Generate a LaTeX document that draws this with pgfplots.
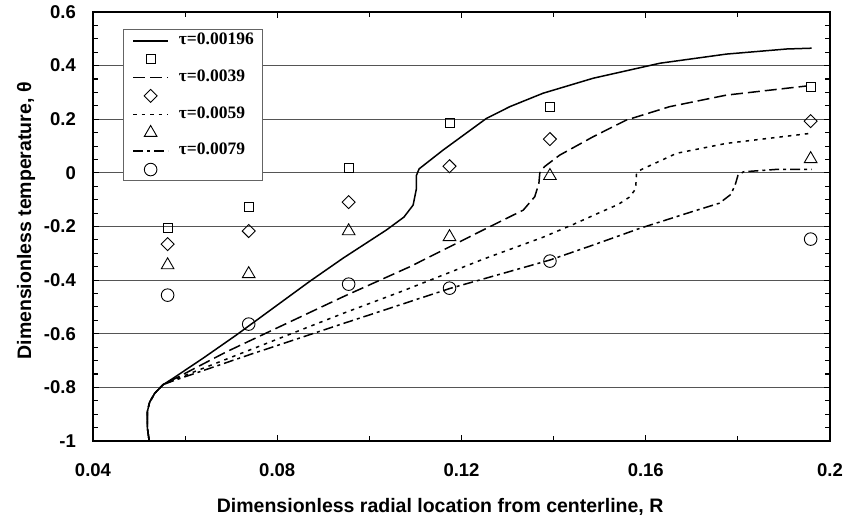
\documentclass[border=0pt]{standalone}
\usepackage{fontspec}
\setmainfont{Liberation Sans}
\newfontfamily\timesfont{Liberation Serif}
\usepackage{pgfplots}
\pgfplotsset{compat=1.18}
\pgfplotsset{
 linelegend/.style={legend image code/.code={\draw[##1] (0pt,0pt) -- (35pt,0pt);}},
 marklegend/.style={legend image code/.code={\draw[##1] plot coordinates {(17.5pt,0pt)};}},
}
\begin{document}
\begin{tikzpicture}
\begin{axis}[
 name=ax,
 scale only axis,
 width=737pt, height=429pt,
 xmin=0.04, xmax=0.2, ymin=-1, ymax=0.6,
 xtick={0.04,0.08,0.12,0.16,0.2},
 xticklabels={0.04,0.08,0.12,0.16,0.2},
 minor xtick={0.06,0.1,0.14,0.18},
 ytick={-1,-0.8,-0.6,-0.4,-0.2,0,0.2,0.4,0.6},
 yticklabels={-1,-0.8,-0.6,-0.4,-0.2,0,0.2,0.4,0.6},
 minor y tick num=3,
 ymajorgrids,
 major grid style={draw={rgb,255:red,85;green,85;blue,85}, line width=1pt},
 tick align=inside,
 major tick length=6pt, minor tick length=5pt,
 tick style={black, line width=1.1pt},
 axis line style={line width=2pt},
 xticklabel style={font=\fontsize{18.5}{20}\selectfont\bfseries, inner sep=0pt, anchor=north, yshift=-22pt},
 yticklabel style={font=\fontsize{18.5}{20}\selectfont\bfseries, inner sep=0pt, anchor=east, xshift=-17pt},
 xlabel={Dimensionless radial location from centerline, R},
 ylabel={Dimensionless temperature, θ},
 xlabel style={font=\fontsize{19.5}{21}\selectfont\bfseries, at={(axis description cs:0.471,-0.1655)}, anchor=base},
 ylabel style={font=\fontsize{19.5}{21}\selectfont\bfseries, at={(axis description cs:-0.0909,0.513)}, anchor=center},
 legend cell align=left,
 legend style={at={(axis description cs:0.0407,0.960)}, anchor=north west,
   draw={rgb,255:red,100;green,100;blue,100}, line width=0.8pt, fill=white,
   font=\timesfont\bfseries\fontsize{17.5}{19}\selectfont,
   inner xsep=9pt, inner ysep=2pt, column sep=10pt, row sep=0pt,
   nodes={inner sep=0pt, text height=13pt, text depth=5.4pt}},
]
% tau = 0.00196
\addplot[black, line width=1.5pt, solid, linelegend] coordinates {
(0.0522,-1.000) (0.0518,-0.950) (0.0518,-0.890) (0.0523,-0.855) (0.0534,-0.822) (0.0552,-0.790)
(0.0574,-0.766) (0.0640,-0.690) (0.0711,-0.605) (0.0871,-0.404) (0.0943,-0.318) (0.1037,-0.213)
(0.1075,-0.165) (0.1095,-0.120) (0.1102,-0.060) (0.1102,-0.010) (0.1108,0.015) (0.1160,0.085)
(0.1254,0.203) (0.1305,0.247) (0.1377,0.297) (0.1486,0.353) (0.1631,0.409) (0.1775,0.443)
(0.1906,0.462) (0.1960,0.465)};
\addlegendentry{τ=0.00196}
\addplot[only marks, mark=square, mark size=4.5pt, mark options={black, solid, line width=0.9pt}, marklegend] coordinates {
(0.0562,-0.206) (0.0738,-0.128) (0.0955,0.018) (0.1174,0.186) (0.1392,0.245) (0.1958,0.320)};
\addlegendentry{\mbox{}}
% tau = 0.0039
\addplot[black, line width=1.5pt, dash pattern=on 12pt off 5pt, linelegend] coordinates {
(0.0522,-1.000) (0.0518,-0.950) (0.0518,-0.890) (0.0523,-0.855) (0.0534,-0.822) (0.0552,-0.790)
(0.0575,-0.770) (0.0689,-0.668) (0.0943,-0.462) (0.1088,-0.350) (0.1254,-0.207) (0.1334,-0.139)
(0.1359,-0.089) (0.1368,-0.039) (0.1370,0.000) (0.1380,0.023) (0.1413,0.066) (0.1486,0.135)
(0.1558,0.197) (0.1652,0.247) (0.1775,0.290) (0.1949,0.324)};
\addlegendentry{τ=0.0039}
\addplot[only marks, mark=square, mark size=4.6pt, mark options={black, solid, line width=0.9pt, rotate=45}, marklegend] coordinates {
(0.0562,-0.266) (0.0738,-0.217) (0.0955,-0.109) (0.1174,0.025) (0.1392,0.126) (0.1958,0.193)};
\addlegendentry{\mbox{}}
% tau = 0.0059
\addplot[black, line width=1.5pt, dash pattern=on 3.5pt off 5pt, linelegend] coordinates {
(0.0522,-1.000) (0.0518,-0.950) (0.0518,-0.890) (0.0523,-0.855) (0.0534,-0.822) (0.0552,-0.790)
(0.0575,-0.772) (0.0943,-0.524) (0.1067,-0.444) (0.1247,-0.322) (0.1377,-0.240) (0.1443,-0.192)
(0.1500,-0.148) (0.1540,-0.118) (0.1565,-0.090) (0.1578,-0.060) (0.1580,-0.002) (0.1590,0.012)
(0.1667,0.073) (0.1775,0.110) (0.1956,0.147)};
\addlegendentry{τ=0.0059}
\addplot[only marks, mark=triangle, mark size=7.3pt, mark options={black, solid, line width=0.9pt}, marklegend] coordinates {
(0.0562,-0.344) (0.0738,-0.377) (0.0955,-0.217) (0.1174,-0.239) (0.1392,-0.011) (0.1958,0.052)};
\addlegendentry{\mbox{}}
% tau = 0.0079
\addplot[black, line width=1.5pt, dash pattern=on 10pt off 4pt on 3pt off 4pt, linelegend] coordinates {
(0.0522,-1.000) (0.0518,-0.950) (0.0518,-0.890) (0.0523,-0.855) (0.0534,-0.822) (0.0552,-0.790)
(0.0575,-0.775) (0.0740,-0.678) (0.0943,-0.562) (0.1175,-0.431) (0.1392,-0.325) (0.1486,-0.269)
(0.1587,-0.207) (0.1700,-0.145) (0.1760,-0.113) (0.1785,-0.080) (0.1795,-0.040) (0.1800,-0.010)
(0.1812,0.004) (0.1884,0.013) (0.1960,0.013)};
\addlegendentry{τ=0.0079}
\addplot[only marks, mark=o, mark size=6.3pt, mark options={black, solid, line width=0.9pt}, marklegend] coordinates {
(0.0562,-0.456) (0.0738,-0.564) (0.0955,-0.415) (0.1174,-0.430) (0.1392,-0.329) (0.1958,-0.247)};
\addlegendentry{\mbox{}}
\end{axis}
\pgfresetboundingbox
\path[use as bounding box] ([shift={(-93pt,-78pt)}]ax.south west) rectangle ([shift={(15pt,12pt)}]ax.north east);
\end{tikzpicture}
\end{document}
